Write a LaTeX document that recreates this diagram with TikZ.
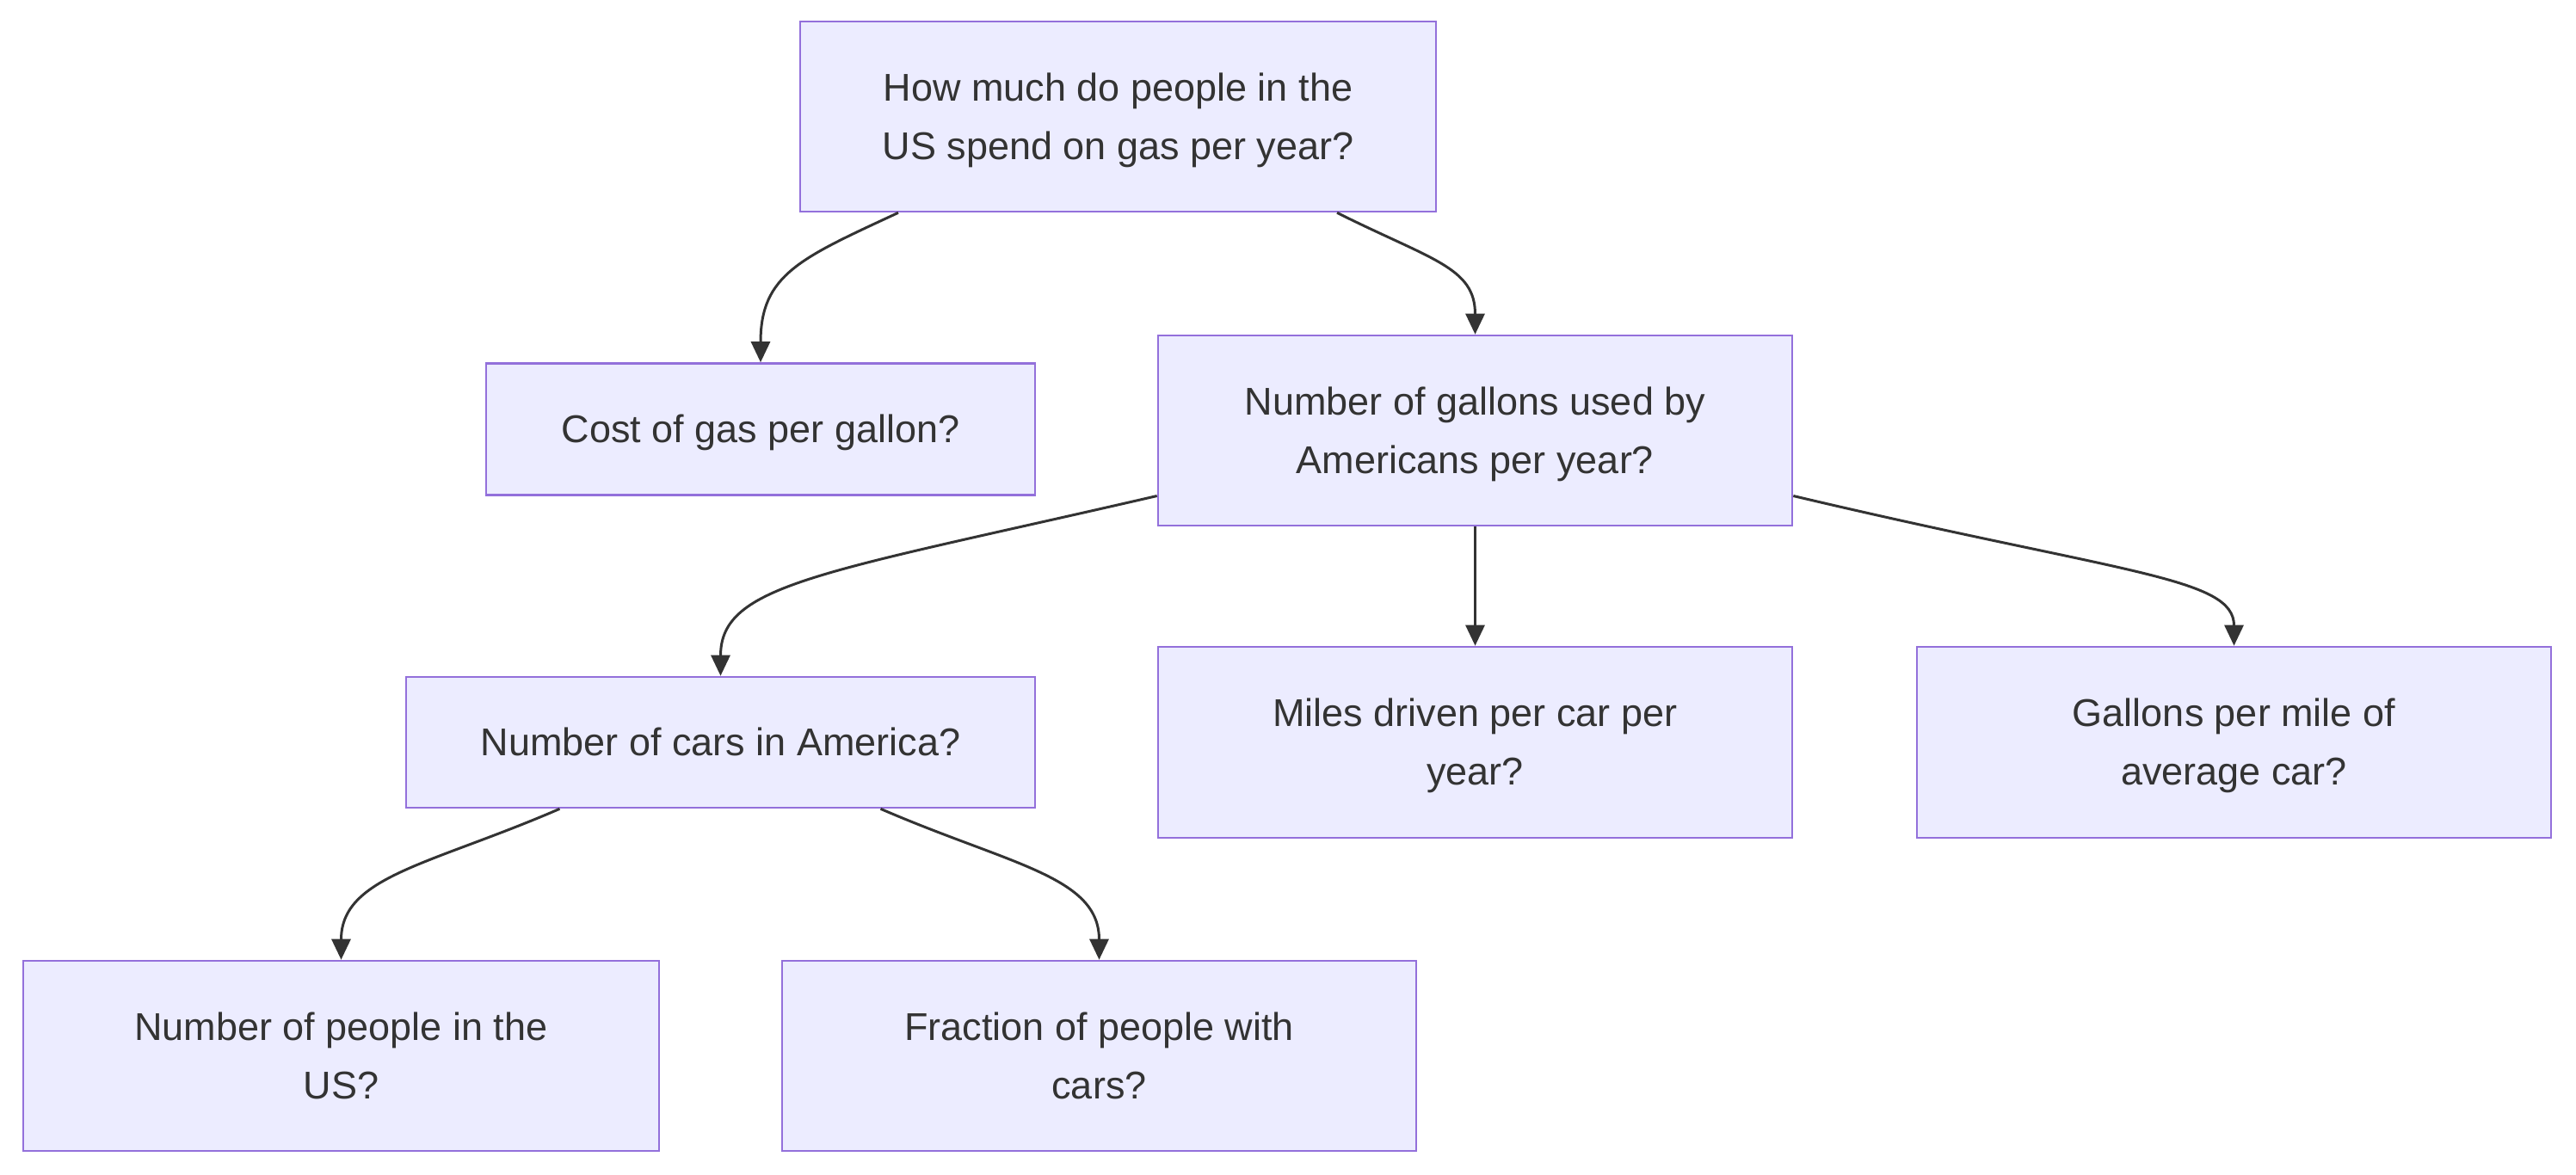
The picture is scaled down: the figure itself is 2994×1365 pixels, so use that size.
\documentclass[tikz,border=0pt]{standalone}
\usepackage{fontspec}
\setmainfont{Liberation Sans}
\usetikzlibrary{arrows.meta}
\definecolor{boxfill}{HTML}{ECECFF}
\definecolor{boxline}{HTML}{9370DB}
\definecolor{ink}{HTML}{333333}
\newcommand\qstrut{\rule[-12pt]{0pt}{55pt}}
\tikzset{
  qbox/.style={draw=boxline, fill=boxfill, line width=2.6pt, inner sep=0pt,
    align=center, text=ink, font=\fontsize{45}{68}\selectfont},
  link/.style={draw=ink, line width=3pt, -{Triangle[length=24pt,width=22pt]}}
}
\begin{document}
\begin{tikzpicture}[x=1pt,y=-1pt]
\useasboundingbox (0,0) rectangle (2994,1365);
\node[qbox, minimum width=739pt, minimum height=221pt] (A) at (1299.5,135.5) {\qstrut How much do people in the\\ \qstrut US spend on gas per year?};
\node[qbox, minimum width=638pt, minimum height=153pt] (B) at (884,499) {\qstrut Cost of gas per gallon?};
\node[qbox, minimum width=737pt, minimum height=221pt] (C) at (1714.5,500.5) {\qstrut Number of gallons used by\\ \qstrut Americans per year?};
\node[qbox, minimum width=731pt, minimum height=152pt] (D) at (837.5,863) {\qstrut Number of cars in America?};
\node[qbox, minimum width=737pt, minimum height=222pt] (E) at (1714.5,863) {\qstrut Miles driven per car per\\ \qstrut year?};
\node[qbox, minimum width=737pt, minimum height=222pt] (F) at (2596.5,863) {\qstrut Gallons per mile of\\ \qstrut average car?};
\node[qbox, minimum width=739pt, minimum height=221pt] (G) at (396.5,1227.5) {\qstrut Number of people in the\\ \qstrut US?};
\node[qbox, minimum width=737pt, minimum height=221pt] (H) at (1277.5,1227.5) {\qstrut Fraction of people with\\ \qstrut cars?};

\path[link] ([xshift=-255.5pt]A.south) .. controls +(-114,53) and +(0,-102) .. (B.north);
\path[link] ([xshift=254.5pt]A.south) .. controls +(110,55) and +(0,-78) .. (C.north);
\path[link] ([yshift=-76pt]C.west) .. controls +(-390,90) and +(0,-107) .. (D.north);
\path[link] (C.south) -- (E.north);
\path[link] ([yshift=-76pt]C.east) .. controls +(385,91) and +(0,-80) .. (F.north);
\path[link] ([xshift=-187pt]D.south) .. controls +(-150,65) and +(0,-97) .. (G.north);
\path[link] ([xshift=186pt]D.south) .. controls +(150,65) and +(0,-97) .. (H.north);
\end{tikzpicture}
\end{document}
